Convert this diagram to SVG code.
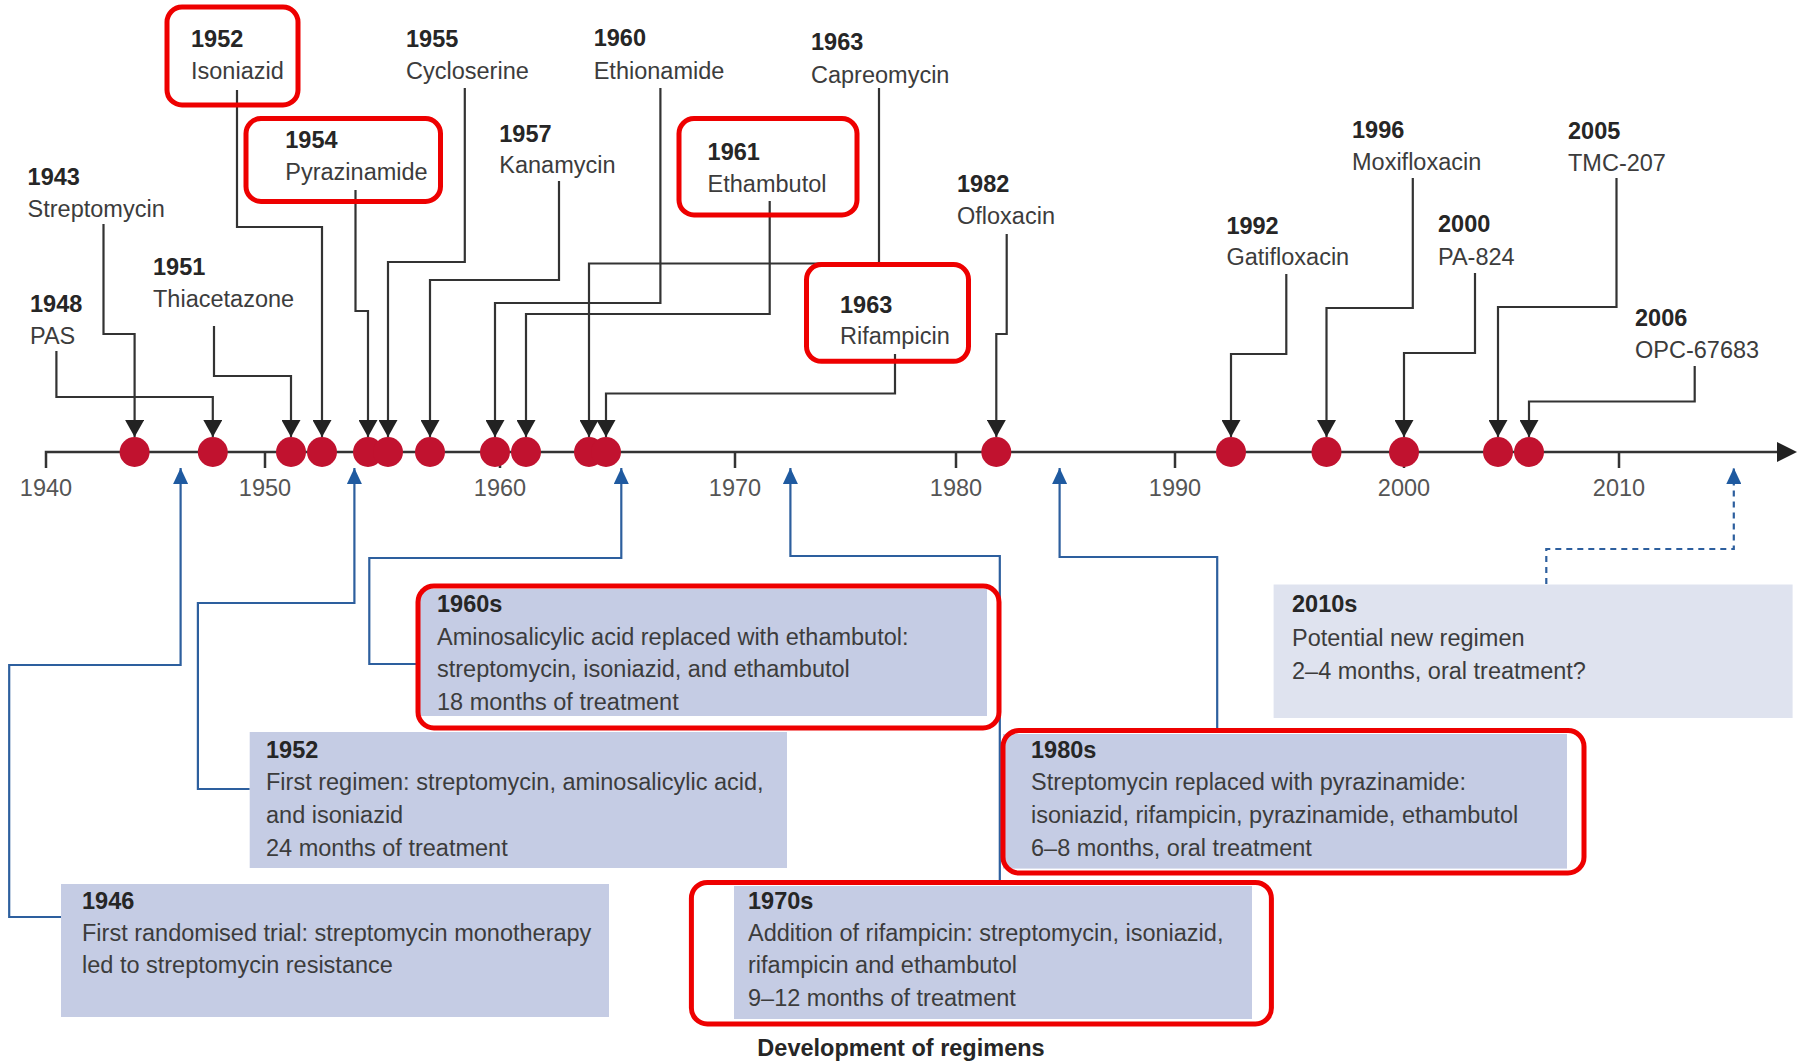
<svg xmlns="http://www.w3.org/2000/svg" width="1804" height="1062" viewBox="0 0 1804 1062">
<defs>
<style>
text{font-family:"Liberation Sans",Arial,sans-serif;font-size:23.5px;fill:#3c3c3c}
.yr{font-weight:bold;fill:#262626}
.tick{fill:#555;text-anchor:middle}
.lead{fill:none;stroke:#333;stroke-width:2.2;marker-end:url(#ab)}
.blue{fill:none;stroke:#2d5f9e;stroke-width:2.2;marker-end:url(#au)}
.dash{stroke-dasharray:6 5}
.dot{fill:#c1122f}
.box{fill:#c5cce4}
.box2{fill:#dfe3ef}
.hl{fill:none;stroke:#ee0000;stroke-width:5}
.axis{fill:none;stroke:#333;stroke-width:2.5}
</style>
<marker id="ab" viewBox="0 0 17 19" refX="17" refY="9.5" markerWidth="17" markerHeight="19" markerUnits="userSpaceOnUse" orient="auto"><path d="M0,0 L17,9.5 L0,19 z" fill="#222"/></marker>
<marker id="au" viewBox="0 0 16 15" refX="16" refY="7.5" markerWidth="16" markerHeight="15" markerUnits="userSpaceOnUse" orient="auto"><path d="M0,0 L16,7.5 L0,15 z" fill="#1f5aa0"/></marker>
</defs>

<g id="axis">
<path class="axis" d="M46,468 V452 H1782"/>
<polygon points="1777,442 1797,452 1777,462" fill="#222"/>
<path class="axis" d="M265,452 V468 M500,452 V468 M735,452 V468 M956,452 V468 M1175,452 V468 M1404,452 V468 M1619,452 V468"/>
<text class="tick" x="46" y="496">1940</text>
<text class="tick" x="265" y="496">1950</text>
<text class="tick" x="500" y="496">1960</text>
<text class="tick" x="735" y="496">1970</text>
<text class="tick" x="956" y="496">1980</text>
<text class="tick" x="1175" y="496">1990</text>
<text class="tick" x="1404" y="496">2000</text>
<text class="tick" x="1619" y="496">2010</text>
</g>

<g id="connectors">
<path class="lead" d="M103.5,224 V334 H134.6 V437"/>
<path class="lead" d="M56.4,351 V397 H212.8 V437"/>
<path class="lead" d="M214,326 V376 H291 V437"/>
<path class="lead" d="M237,90 V227 H322 V437"/>
<path class="lead" d="M355.5,190 V311 H368 V437"/>
<path class="lead" d="M464.8,88 V262 H388 V437"/>
<path class="lead" d="M559,181 V280 H430 V437"/>
<path class="lead" d="M660.4,88 V303 H495 V437"/>
<path class="lead" d="M769.7,201 V314 H526 V437"/>
<path class="lead" d="M879,88 V263.5 H589 V437"/>
<path class="lead" d="M895,354 V393.5 H606 V437"/>
<path class="lead" d="M1006.7,234 V334 H996.3 V437"/>
<path class="lead" d="M1286.3,274 V354 H1231 V437"/>
<path class="lead" d="M1412.8,178 V308 H1326.5 V437"/>
<path class="lead" d="M1475,273 V353 H1404 V437"/>
<path class="lead" d="M1616.5,178 V307 H1498 V437"/>
<path class="lead" d="M1694.7,366 V401.5 H1529 V437"/>
<path class="blue" d="M61,917 H9.2 V665 H180.6 V468"/>
<path class="blue" d="M249.7,789 H197.9 V603 H354.4 V468"/>
<path class="blue" d="M420,664 H369.3 V558 H621.3 V468"/>
<path class="blue" d="M999.8,884 V556 H790.4 V468"/>
<path class="blue" d="M1217.2,732 V557 H1059.6 V468"/>
<path class="blue dash" d="M1546.3,584 V549 H1733.8 V468"/>
</g>

<g id="events">
<circle class="dot" cx="134.6" cy="452" r="15"/>
<circle class="dot" cx="212.8" cy="452" r="15"/>
<circle class="dot" cx="291" cy="452" r="15"/>
<circle class="dot" cx="322" cy="452" r="15"/>
<circle class="dot" cx="368" cy="452" r="15"/>
<circle class="dot" cx="388" cy="452" r="15"/>
<circle class="dot" cx="430" cy="452" r="15"/>
<circle class="dot" cx="495" cy="452" r="15"/>
<circle class="dot" cx="526" cy="452" r="15"/>
<circle class="dot" cx="589" cy="452" r="15"/>
<circle class="dot" cx="606" cy="452" r="15"/>
<circle class="dot" cx="996.3" cy="452" r="15"/>
<circle class="dot" cx="1231" cy="452" r="15"/>
<circle class="dot" cx="1326.5" cy="452" r="15"/>
<circle class="dot" cx="1404" cy="452" r="15"/>
<circle class="dot" cx="1498" cy="452" r="15"/>
<circle class="dot" cx="1529" cy="452" r="15"/>
</g>

<g id="drug-1943"><text class="yr" x="27.6" y="185">1943</text><text x="27.6" y="217">Streptomycin</text></g>
<g id="drug-1948"><text class="yr" x="30" y="312">1948</text><text x="30" y="344">PAS</text></g>
<g id="drug-1951"><text class="yr" x="153" y="275">1951</text><text x="153" y="307">Thiacetazone</text></g>
<g id="drug-1952"><rect class="hl" x="167" y="7" width="131" height="98" rx="15"/><text class="yr" x="191" y="47">1952</text><text x="191" y="79">Isoniazid</text></g>
<g id="drug-1954"><rect class="hl" x="246" y="118.5" width="194.5" height="83" rx="15"/><text class="yr" x="285.3" y="148">1954</text><text x="285.3" y="180">Pyrazinamide</text></g>
<g id="drug-1955"><text class="yr" x="406" y="47">1955</text><text x="406" y="79">Cycloserine</text></g>
<g id="drug-1957"><text class="yr" x="499.3" y="141.5">1957</text><text x="499.3" y="173">Kanamycin</text></g>
<g id="drug-1960"><text class="yr" x="593.7" y="46">1960</text><text x="593.7" y="79">Ethionamide</text></g>
<g id="drug-1961"><rect class="hl" x="679" y="118.5" width="178" height="96.5" rx="15"/><text class="yr" x="707.6" y="160">1961</text><text x="707.6" y="192">Ethambutol</text></g>
<g id="drug-1963-capreomycin"><text class="yr" x="811" y="49.5">1963</text><text x="811" y="83">Capreomycin</text></g>
<g id="drug-1963-rifampicin"><rect class="hl" x="806.5" y="264.6" width="162" height="96.7" rx="15"/><text class="yr" x="840" y="313">1963</text><text x="840" y="344">Rifampicin</text></g>
<g id="drug-1982"><text class="yr" x="957" y="192">1982</text><text x="957" y="224">Ofloxacin</text></g>
<g id="drug-1992"><text class="yr" x="1226.4" y="233.5">1992</text><text x="1226.4" y="265">Gatifloxacin</text></g>
<g id="drug-1996"><text class="yr" x="1352" y="138">1996</text><text x="1352" y="170">Moxifloxacin</text></g>
<g id="drug-2000"><text class="yr" x="1438" y="232.4">2000</text><text x="1438" y="265">PA-824</text></g>
<g id="drug-2005"><text class="yr" x="1568" y="139">2005</text><text x="1568" y="171">TMC-207</text></g>
<g id="drug-2006"><text class="yr" x="1635" y="325.6">2006</text><text x="1635" y="358">OPC-67683</text></g>

<g id="regimen-1946"><rect class="box" x="61" y="884" width="548" height="133"/><text class="yr" x="82" y="909">1946</text><text x="82" y="941">First randomised trial: streptomycin monotherapy</text><text x="82" y="973">led to streptomycin resistance</text></g>
<g id="regimen-1952"><rect class="box" x="249.7" y="732" width="537.3" height="136"/><text class="yr" x="266" y="758">1952</text><text x="266" y="790">First regimen: streptomycin, aminosalicylic acid,</text><text x="266" y="823">and isoniazid</text><text x="266" y="856">24 months of treatment</text></g>
<g id="regimen-1960s"><rect class="box" x="420" y="589" width="567" height="127"/><rect class="hl" x="418" y="586" width="581" height="142" rx="16"/><text class="yr" x="437" y="612">1960s</text><text x="437" y="645">Aminosalicylic acid replaced with ethambutol:</text><text x="437" y="677">streptomycin, isoniazid, and ethambutol</text><text x="437" y="710">18 months of treatment</text></g>
<g id="regimen-1970s"><rect class="box" x="734" y="886" width="518" height="133"/><rect class="hl" x="691.4" y="882.4" width="580" height="141.6" rx="16"/><text class="yr" x="748" y="909">1970s</text><text x="748" y="941">Addition of rifampicin: streptomycin, isoniazid,</text><text x="748" y="973">rifampicin and ethambutol</text><text x="748" y="1006">9–12 months of treatment</text></g>
<g id="regimen-1980s"><rect class="box" x="1003" y="734" width="564" height="134.6"/><rect class="hl" x="1003" y="730.6" width="581" height="142.4" rx="16"/><text class="yr" x="1031" y="758">1980s</text><text x="1031" y="790">Streptomycin replaced with pyrazinamide:</text><text x="1031" y="823">isoniazid, rifampicin, pyrazinamide, ethambutol</text><text x="1031" y="856">6–8 months, oral treatment</text></g>
<g id="regimen-2010s"><rect class="box2" x="1273.6" y="584.5" width="519" height="133.5"/><text class="yr" x="1292" y="612">2010s</text><text x="1292" y="645.5">Potential new regimen</text><text x="1292" y="679">2–4 months, oral treatment?</text></g>

<text class="yr" x="901" y="1056" text-anchor="middle">Development of regimens</text>
</svg>
